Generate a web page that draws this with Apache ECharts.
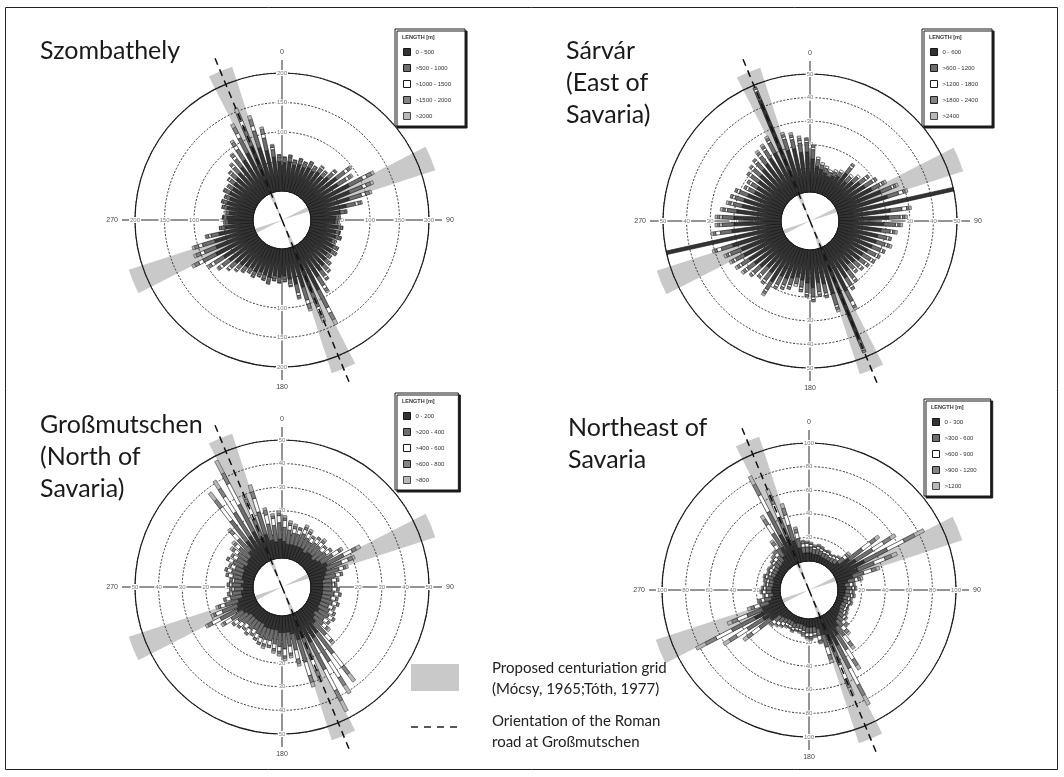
<!DOCTYPE html>
<html>
<head>
<meta charset="utf-8">
<title>Rose diagrams of linear features around Savaria</title>
<script src="https://cdn.jsdelivr.net/npm/echarts@6/dist/echarts.min.js"></script>
<style>
  html, body { margin: 0; padding: 0; background: #fff; }
  #chart { width: 1064px; height: 777px; }
</style>
</head>
<body>
<div id="chart"></div>
<script>
// Direction bins: 72 bins of 5 degrees, bearing measured clockwise from north.
const BIN_DEG = 5;

// ---------- Szombathely: segment counts per bin and length class ----------
const szClasses = ['0 - 500', '>500 - 1000', '>1000 - 1500', '>1500 - 2000', '>2000'];
const szC1 = [48,50,46,49,47,50,48,52,50,56,66,62,
              78,74,70,62,50,42,41,46,44,46,42,48,
              49,46,50,54,58,64,84,80,70,62,52,46,
              48,46,50,48,46,49,47,50,53,57,62,67,
              76,71,70,60,48,42,44,41,46,48,46,50,
              49,52,55,58,63,70,78,86,79,71,58,50];
const szC2 = [7,8,6,7,7,8,7,8,8,11,18,17,
              26,24,22,16,8,6,5,6,6,7,6,7,
              7,6,8,10,12,18,34,30,23,15,8,7,
              7,6,8,7,6,7,7,8,9,12,15,19,
              25,22,22,14,7,6,6,5,6,7,7,8,
              7,9,11,13,17,22,29,35,30,22,13,8];
const szC3 = [2,2,2,2,2,2,2,3,2,4,6,5,
              8,7,7,5,2,2,2,2,1,2,2,2,
              2,2,2,3,4,6,10,9,7,5,3,2,
              2,2,2,2,2,2,2,2,3,4,5,6,
              8,7,7,4,2,2,1,2,2,2,2,2,
              2,3,3,4,5,7,9,11,9,7,4,2];
const szC4 = [1,2,1,2,1,2,1,2,2,3,5,5,
              9,8,7,5,2,0,0,1,1,1,0,1,
              2,1,2,2,3,5,13,11,8,4,2,1,
              1,1,2,1,1,2,1,2,2,2,4,5,
              8,8,7,4,1,0,1,0,1,1,1,2,
              2,2,2,3,5,7,11,14,11,8,3,2];
const szC5 = [0,0,0,0,0,0,0,0,0,1,3,3,
              5,5,4,2,0,0,0,0,0,0,0,0,
              0,0,0,1,1,3,9,8,4,2,0,0,
              0,0,0,0,0,0,0,0,1,1,2,3,
              5,4,4,2,0,0,0,0,0,0,0,0,
              0,0,1,2,2,4,7,10,7,4,2,0];

// ---------- Sárvár ----------
const saClasses = ['0 - 600', '>600 - 1200', '>1200 - 1800', '>1800 - 2400', '>2400'];
const saC1 = [14,11,10,9,8,9,10,13,10,12,14,15,
              17,20,22,50,22,21,19,18,17,17,16,15,
              14,14,13,12,14,16,21,42,20,15,14,16,
              14,13,12,13,14,14,18,15,14,16,17,18,
              19,19,22,50,21,20,20,19,17,17,16,14,
              14,15,16,17,18,19,20,43,19,19,17,17];
const saC2 = [4,3,2,2,2,2,2,3,3,3,3,4,
              4,5,5,0,5,5,5,4,4,4,4,4,
              4,3,3,3,4,4,5,4,5,4,4,4,
              4,3,3,3,3,4,4,4,4,4,4,4,
              4,5,5,0,5,5,5,4,4,4,4,3,
              3,4,4,4,4,4,5,4,5,4,4,4];
const saC3 = [1,1,1,1,1,1,1,1,1,1,1,1,
              1,1,2,0,2,1,1,1,1,1,1,1,
              1,1,1,1,1,1,2,1,1,1,1,1,
              1,1,1,1,1,1,1,1,1,1,1,1,
              1,1,2,0,2,1,1,1,1,1,1,1,
              1,1,1,1,1,1,1,1,1,1,1,1];
const saC4 = [1,0,0,0,0,0,0,1,0,0,1,1,
              1,1,1,0,1,1,1,1,1,1,1,1,
              1,1,1,1,1,1,1,1,1,1,1,1,
              1,1,0,1,1,1,1,1,1,1,1,1,
              1,1,1,0,1,1,1,1,1,1,1,1,
              1,1,1,1,1,1,1,1,1,1,1,1];
const saC5 = [0,0,0,0,0,0,0,0,0,0,0,0,
              1,1,1,0,1,1,1,1,0,1,0,0,
              0,0,0,0,0,0,1,0,1,0,0,0,
              0,0,0,0,0,0,1,0,0,0,1,1,
              1,1,1,0,1,1,1,1,1,0,0,0,
              0,0,0,0,1,1,1,0,1,1,1,0];

// ---------- Großmutschen ----------
const grClasses = ['0 - 200', '>200 - 400', '>400 - 600', '>600 - 800', '>800'];
const grC1 = [7,6,6,6,6,6,5,6,6,5,6,7,
              9,8,7,6,5,5,5,5,5,5,5,5,
              6,5,6,8,12,13,14,11,11,8,7,7,
              7,6,6,6,6,5,5,5,5,5,6,7,
              9,8,7,5,5,4,5,4,5,5,5,6,
              5,6,6,8,12,13,14,10,11,8,7,8];
const grC2 = [6,6,5,5,6,5,5,5,5,5,5,6,
              8,7,6,5,4,4,4,5,4,5,4,5,
              5,5,5,7,11,12,13,10,10,7,6,7,
              6,6,5,5,5,5,4,5,4,5,5,6,
              8,7,6,5,4,4,4,4,4,5,4,5,
              5,5,6,7,11,12,13,9,10,7,7,7];
const grC3 = [3,2,2,2,2,2,2,2,2,2,2,3,
              4,3,2,2,2,1,2,2,2,2,2,2,
              2,2,2,3,7,8,10,5,6,4,3,3,
              2,2,2,2,2,2,2,2,2,2,2,3,
              4,3,2,2,1,1,1,1,2,2,2,2,
              2,2,2,3,7,8,10,6,6,4,3,3];
const grC4 = [1,1,1,1,1,1,1,1,1,1,1,1,
              2,2,1,1,1,1,1,1,1,1,1,1,
              1,1,1,1,4,4,5,3,3,2,1,1,
              1,1,1,1,1,1,1,1,1,1,1,1,
              2,1,1,1,1,1,1,1,1,1,1,1,
              1,1,1,2,4,4,5,3,3,2,1,1];
const grC5 = [1,1,1,0,1,1,0,0,1,0,0,1,
              2,1,1,0,0,0,0,0,0,0,0,0,
              0,0,1,1,4,4,5,2,2,1,1,1,
              1,1,0,1,0,0,0,0,0,0,0,1,
              1,1,1,0,0,0,0,0,0,0,0,0,
              0,1,1,1,4,4,6,2,3,1,1,1];

// ---------- Northeast of Savaria ----------
const neClasses = ['0 - 300', '>300 - 600', '>600 - 900', '>900 - 1200', '>1200'];
const neC1 = [7,6,6,6,5,5,5,5,6,9,18,22,
              28,20,14,9,6,7,6,6,5,6,5,5,
              6,7,8,10,14,20,28,25,15,9,7,7,
              7,6,5,5,6,5,5,6,7,8,16,21,
              27,18,11,8,6,7,7,6,6,7,6,6,
              6,7,7,8,11,18,28,24,19,12,7,7];
const neC2 = [5,4,5,4,4,4,3,4,4,6,14,17,
              22,15,10,6,4,5,4,5,4,4,4,4,
              4,5,6,7,10,15,22,19,11,6,5,5,
              5,4,4,4,4,4,4,4,5,6,12,16,
              22,14,8,6,4,5,5,4,4,5,4,4,
              4,5,5,6,8,14,22,18,14,8,5,5];
const neC3 = [2,2,2,2,2,2,2,2,2,3,9,11,
              16,10,7,3,3,2,2,2,2,2,2,2,
              2,2,3,4,7,10,16,13,7,4,2,3,
              3,2,2,2,2,2,2,3,3,3,8,11,
              15,9,5,3,3,3,2,2,2,2,2,3,
              2,2,3,3,4,9,16,12,9,5,3,3];
const neC4 = [1,1,1,1,1,1,1,1,1,2,5,7,
              10,6,4,2,1,1,1,1,1,1,1,1,
              1,1,2,3,4,6,10,8,4,2,1,2,
              1,2,1,1,1,1,1,1,1,2,5,7,
              10,5,3,2,1,1,1,1,2,1,1,1,
              1,1,2,2,3,5,10,8,6,3,2,1];
const neC5 = [1,1,1,1,0,1,0,0,1,2,4,5,
              9,5,3,2,1,1,1,1,1,1,0,1,
              1,1,1,2,3,4,9,7,3,1,1,1,
              1,1,1,0,1,0,1,1,1,1,4,6,
              9,4,3,1,1,1,1,1,1,1,1,1,
              1,1,1,1,2,4,8,6,4,2,1,1];

// Orientation of the proposed centuriation grid and of the Roman road (bearings, degrees)
const gridBearings = [67.5, 157.5, 247.5, 337.5];
const roadBearings = [157.5, 337.5];

// ---------- styling / layout ----------
const R_IN = 29, R_OUT = 147;
const HALF_W = 1.8;               // half width of a bar, px
const BAND_HALF = 4.5;            // half angular width of a grid band, degrees
const BAND_REACH = 1.12;          // band length as a multiple of the axis maximum
const ROAD_REACH = 1.24;          // road line length as a multiple of the axis maximum
const BAND_FILL = '#c9c9c9';
const CLASS_FILL = ['#333333', '#6e6e6e', '#ffffff', '#848484', '#b8b8b8'];
const CLASS_EDGE = ['#161616', '#1b1b1b', '#1b1b1b', '#222222', '#4a4a4a'];
const CARDINAL_STARTS = [90, 0, 270, 180];   // radius-axis directions: N, E, S, W
const SMALL_FONT = 'Liberation Sans, Arial, sans-serif';
const TITLE_FONT = 'Lato, "Open Sans", sans-serif';

const panels = [
  { title: 'Szombathely', classes: szClasses, values: [szC1, szC2, szC3, szC4, szC5],
    max: 200, step: 50, center: [282, 220], titleAt: [40, 35], legendAt: [395, 29] },
  { title: 'Sárvár\n(East of\nSavaria)', classes: saClasses, values: [saC1, saC2, saC3, saC4, saC5],
    max: 50, step: 10, center: [810, 221], titleAt: [566, 35], legendAt: [922, 29] },
  { title: 'Großmutschen\n(North of\nSavaria)', classes: grClasses, values: [grC1, grC2, grC3, grC4, grC5],
    max: 50, step: 10, center: [282, 587], titleAt: [40, 409], legendAt: [395, 393] },
  { title: 'Northeast of\nSavaria', classes: neClasses, values: [neC1, neC2, neC3, neC4, neC5],
    max: 100, step: 20, center: [809, 590], titleAt: [568, 412], legendAt: [924, 399] }
];

// Turn per-class counts into stacked [start, bearing, end] items.
function stackBins(classArrays) {
  const base = classArrays[0].map(() => 0);
  return classArrays.map(arr => arr.map((v, i) => {
    const item = [base[i], (i + 0.5) * BIN_DEG, base[i] + v];
    base[i] += v;
    return item;
  }));
}

// A rose-diagram bar segment: a straight stick of constant width.
function makeBarRenderer(edge) {
  return function (params, api) {
    const r0v = api.value(0), ang = api.value(1), r1v = api.value(2);
    if (!(r1v > r0v)) return null;
    const p0 = api.coord([r0v, ang]);
    const p1 = api.coord([r1v, ang]);
    let ux = p1[0] - p0[0], uy = p1[1] - p0[1];
    const len = Math.hypot(ux, uy) || 1;
    ux /= len; uy /= len;
    const nx = -uy * HALF_W, ny = ux * HALF_W;
    return {
      type: 'polygon',
      shape: { points: [[p0[0] + nx, p0[1] + ny], [p1[0] + nx, p1[1] + ny],
                        [p1[0] - nx, p1[1] - ny], [p0[0] - nx, p0[1] - ny]] },
      style: { fill: api.visual('color'), stroke: edge, lineWidth: 0.65 }
    };
  };
}

// Grey band of the centuriation grid: a narrow sector from the centre outward.
function renderBand(params, api) {
  const cs = params.coordSys;
  const ang = api.value(1);
  const tip = api.coord([api.value(0), ang]);
  const rr = Math.hypot(tip[0] - cs.cx, tip[1] - cs.cy);
  const toScreen = b => (b - 90) * Math.PI / 180;
  return {
    type: 'sector',
    shape: { cx: cs.cx, cy: cs.cy, r0: 0, r: rr,
             startAngle: toScreen(ang - BAND_HALF), endAngle: toScreen(ang + BAND_HALF), clockwise: true },
    style: { fill: BAND_FILL }
  };
}

// Dashed orientation line of the Roman road.
function renderRoad(params, api) {
  const cs = params.coordSys;
  const end = api.coord([api.value(0), api.value(1)]);
  return {
    type: 'line',
    shape: { x1: cs.cx, y1: cs.cy, x2: end[0], y2: end[1] },
    style: { stroke: '#111', lineWidth: 1.5, lineDash: [7, 5] }
  };
}

const option = {
  backgroundColor: '#ffffff',
  animation: false,
  title: [], legend: [], polar: [], angleAxis: [], radiusAxis: [], series: [],
  graphic: []
};

panels.forEach(pn => {
  const main = option.polar.length;
  option.polar.push({ center: pn.center, radius: [R_IN, R_OUT] });
  option.angleAxis.push({
    polarIndex: main, type: 'value', min: 0, max: 360, interval: 90,
    startAngle: 90, clockwise: true, z: 0,
    axisLine: { lineStyle: { color: '#1e1e1e', width: 1.2 } },
    axisTick: { show: true, length: 13, lineStyle: { color: '#2a2a2a', width: 1 } },
    axisLabel: { margin: 17, fontSize: 7, color: '#444', fontFamily: SMALL_FONT,
                 formatter: v => (v >= 360 ? '' : String(v)) },
    splitLine: { show: true, lineStyle: { color: '#2a2a2a', width: 1 } }
  });
  option.radiusAxis.push({
    polarIndex: main, type: 'value', min: 0, max: pn.max, interval: pn.step, z: 0,
    axisLine: { show: false }, axisTick: { show: false }, axisLabel: { show: false },
    splitLine: { show: true, showMinLine: false, showMaxLine: false,
                 lineStyle: { color: '#333', width: 1, type: [2, 1.6] } }
  });

  // Tick labels along the four cardinal axes
  CARDINAL_STARTS.forEach(start => {
    const idx = option.polar.length;
    option.polar.push({ center: pn.center, radius: [R_IN, R_OUT] });
    option.angleAxis.push({ polarIndex: idx, type: 'value', min: 0, max: 360, startAngle: start, show: false });
    option.radiusAxis.push({
      polarIndex: idx, type: 'value', min: 0, max: pn.max, interval: pn.step, z: 1,
      axisLine: { show: false }, axisTick: { show: false }, splitLine: { show: false },
      axisLabel: { showMinLabel: false, margin: 0, align: 'center', verticalAlign: 'middle',
                   fontSize: 6, color: '#777', fontFamily: SMALL_FONT,
                   backgroundColor: '#fff', padding: [0, 1] }
    });
  });

  // Centuriation grid bands (beneath everything else)
  option.series.push({
    type: 'custom', coordinateSystem: 'polar', polarIndex: main, z: -1, silent: true,
    renderItem: renderBand,
    data: gridBearings.map(b => [pn.max * BAND_REACH, b])
  });

  // Stacked length classes
  const stacked = stackBins(pn.values);
  pn.classes.forEach((name, ci) => {
    option.series.push({
      name: name, type: 'custom', coordinateSystem: 'polar', polarIndex: main, z: 2,
      renderItem: makeBarRenderer(CLASS_EDGE[ci]),
      itemStyle: { color: CLASS_FILL[ci] },
      data: stacked[ci]
    });
  });

  // Roman road orientation
  option.series.push({
    type: 'custom', coordinateSystem: 'polar', polarIndex: main, z: 3, silent: true,
    renderItem: renderRoad,
    data: roadBearings.map(b => [pn.max * ROAD_REACH, b])
  });

  // Panel title
  option.title.push({
    text: pn.title, left: pn.titleAt[0], top: pn.titleAt[1], padding: 0,
    textStyle: { fontFamily: TITLE_FONT, fontSize: 25, fontWeight: 'normal', color: '#1a1a1a', lineHeight: 32 }
  });

  // Length-class legend box
  option.legend.push({
    orient: 'vertical', left: pn.legendAt[0], top: pn.legendAt[1],
    padding: [19, 14, 6, 8], itemWidth: 7, itemHeight: 7, itemGap: 8,
    icon: 'rect', selectedMode: false,
    backgroundColor: '#fff', borderColor: '#1a1a1a', borderWidth: 1,
    shadowColor: '#1a1a1a', shadowBlur: 0, shadowOffsetX: 2, shadowOffsetY: 2,
    textStyle: { fontSize: 6, color: '#333', fontFamily: SMALL_FONT },
    data: pn.classes.map((n, ci) => ({
      name: n, itemStyle: { color: CLASS_FILL[ci], borderColor: CLASS_EDGE[ci], borderWidth: 1 }
    }))
  });
  option.title.push({
    text: 'LENGTH [m]', left: pn.legendAt[0] + 7, top: pn.legendAt[1] + 5, padding: 0,
    textStyle: { fontFamily: SMALL_FONT, fontSize: 5.5, fontWeight: 'bold', color: '#333' }
  });
});

// Figure frame and the key for the grid bands and the road
option.graphic = [
  { type: 'rect', silent: true, shape: { x: 5.5, y: 7.5, width: 1052, height: 762 },
    style: { fill: 'none', stroke: '#222', lineWidth: 1 } },
  { type: 'rect', silent: true, shape: { x: 411, y: 664, width: 48, height: 27 },
    style: { fill: BAND_FILL } },
  { type: 'line', silent: true, shape: { x1: 411, y1: 727, x2: 461, y2: 727 },
    style: { stroke: '#222', lineWidth: 1.6, lineDash: [7, 6] } },
  { type: 'text', silent: true, x: 492, y: 658,
    style: { text: 'Proposed centuriation grid\n(Mócsy, 1965;Tóth, 1977)', fill: '#222',
             fontFamily: TITLE_FONT, fontSize: 15, lineHeight: 21 } },
  { type: 'text', silent: true, x: 492, y: 711,
    style: { text: 'Orientation of the Roman\nroad at Großmutschen', fill: '#222',
             fontFamily: TITLE_FONT, fontSize: 15, lineHeight: 21 } }
];

const chart = echarts.init(document.getElementById('chart'));
chart.setOption(option);
</script>
</body>
</html>
